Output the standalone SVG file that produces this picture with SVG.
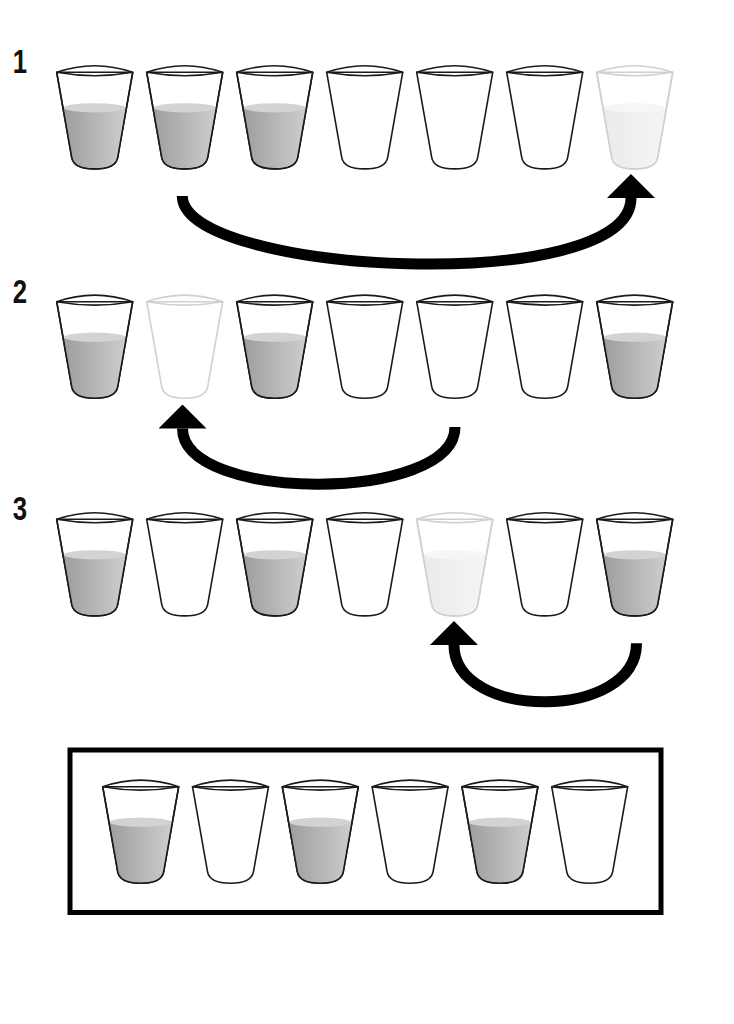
<svg xmlns="http://www.w3.org/2000/svg" xmlns:xlink="http://www.w3.org/1999/xlink" width="734" height="1024" viewBox="0 0 734 1024">
<style>
.out{fill:#fff;stroke:#1a1a1a;stroke-width:1.6;stroke-linejoin:round}
.rim{fill:none;stroke:#1a1a1a;stroke-width:1.6;stroke-linejoin:round}
.body{fill:url(#liq)}
.surf{fill:#d3d3d3}
.faded{opacity:0.2}
.lbl{font-family:"Liberation Sans",Arial,sans-serif;font-weight:bold;font-size:33px;fill:#111;text-anchor:middle}
.arr{fill:none;stroke:#000;stroke-width:11;stroke-linecap:butt;marker-end:url(#head)}
</style>
<defs>
<linearGradient id="liq" x1="0" y1="0" x2="1" y2="0">
<stop offset="0" stop-color="#9e9e9e"/>
<stop offset="1" stop-color="#cdcdcd"/>
</linearGradient>
<marker id="head" viewBox="0 0 24 48" refX="0" refY="24" markerWidth="24" markerHeight="48" markerUnits="userSpaceOnUse" orient="auto">
<path d="M0,0 L24,24 L0,48 Z" fill="#000"/>
</marker>
<g id="empty">
<path class="out" d="M0,0 L15,85 C16.5,93.5 26,96.6 38,96.6 C50,96.6 59.5,93.5 61,85 L76,0 Z"/>
<path class="rim" d="M0,0 Q38,-13.2 76,0 Q38,6.8 0,0 Z"/>
</g>
<g id="full">
<path class="out" d="M0,0 L15,85 C16.5,93.5 26,96.6 38,96.6 C50,96.6 59.5,93.5 61,85 L76,0 Z"/>
<path class="body" d="M7,35.5 L15.3,86 C16.7,93.3 26,95.8 38,95.8 C50,95.8 59.3,93.3 60.7,86 L69,35.5 Z"/>
<ellipse class="surf" cx="38" cy="35.5" rx="31" ry="4.6"/>
<path class="out" style="fill:none" d="M0,0 L15,85 C16.5,93.5 26,96.6 38,96.6 C50,96.6 59.5,93.5 61,85 L76,0"/>
<path class="rim" d="M0,0 Q38,-13.2 76,0 Q38,6.8 0,0 Z"/>
</g>
</defs>
<rect width="734" height="1024" fill="#fff"/>

<g id="labels">
<text class="lbl" transform="translate(20,73) scale(0.78,1)">1</text>
<text class="lbl" transform="translate(20,303) scale(0.78,1)">2</text>
<text class="lbl" transform="translate(20,519.5) scale(0.78,1)">3</text>
</g>

<g id="row1">
<g id="r1g1"><use xlink:href="#full" x="56.7" y="72.3"/></g>
<g id="r1g2"><use xlink:href="#full" x="146.7" y="72.3"/></g>
<g id="r1g3"><use xlink:href="#full" x="236.7" y="72.3"/></g>
<g id="r1g4"><use xlink:href="#empty" x="326.7" y="72.3"/></g>
<g id="r1g5"><use xlink:href="#empty" x="416.7" y="72.3"/></g>
<g id="r1g6"><use xlink:href="#empty" x="506.7" y="72.3"/></g>
<g id="r1g7" class="faded"><use xlink:href="#full" x="596.7" y="72.3"/></g>
</g>

<g id="row2">
<g id="r2g1"><use xlink:href="#full" x="56.7" y="301.7"/></g>
<g id="r2g2" class="faded"><use xlink:href="#empty" x="146.7" y="301.7"/></g>
<g id="r2g3"><use xlink:href="#full" x="236.7" y="301.7"/></g>
<g id="r2g4"><use xlink:href="#empty" x="326.7" y="301.7"/></g>
<g id="r2g5"><use xlink:href="#empty" x="416.7" y="301.7"/></g>
<g id="r2g6"><use xlink:href="#empty" x="506.7" y="301.7"/></g>
<g id="r2g7"><use xlink:href="#full" x="596.7" y="301.7"/></g>
</g>

<g id="row3">
<g id="r3g1"><use xlink:href="#full" x="56.7" y="519.3"/></g>
<g id="r3g2"><use xlink:href="#empty" x="146.7" y="519.3"/></g>
<g id="r3g3"><use xlink:href="#full" x="236.7" y="519.3"/></g>
<g id="r3g4"><use xlink:href="#empty" x="326.7" y="519.3"/></g>
<g id="r3g5" class="faded"><use xlink:href="#full" x="416.7" y="519.3"/></g>
<g id="r3g6"><use xlink:href="#empty" x="506.7" y="519.3"/></g>
<g id="r3g7"><use xlink:href="#full" x="596.7" y="519.3"/></g>
</g>

<g id="result">
<rect id="resultBox" x="70" y="750" width="591" height="162.5" fill="none" stroke="#000" stroke-width="5"/>
<g id="r4g1"><use xlink:href="#full" x="102.7" y="786.7"/></g>
<g id="r4g2"><use xlink:href="#empty" x="192.5" y="786.7"/></g>
<g id="r4g3"><use xlink:href="#full" x="282.3" y="786.7"/></g>
<g id="r4g4"><use xlink:href="#empty" x="372.1" y="786.7"/></g>
<g id="r4g5"><use xlink:href="#full" x="461.9" y="786.7"/></g>
<g id="r4g6"><use xlink:href="#empty" x="551.7" y="786.7"/></g>
</g>

<g id="connectors">
<path class="arr" d="M182.3,196 C182.3,275 631,297 631,198"/>
<path class="arr" d="M455,427 C455,503 182.5,503 182.5,428.5"/>
<path class="arr" d="M636.5,643.3 C636.5,721 454,721 454,645"/>
</g>
</svg>
